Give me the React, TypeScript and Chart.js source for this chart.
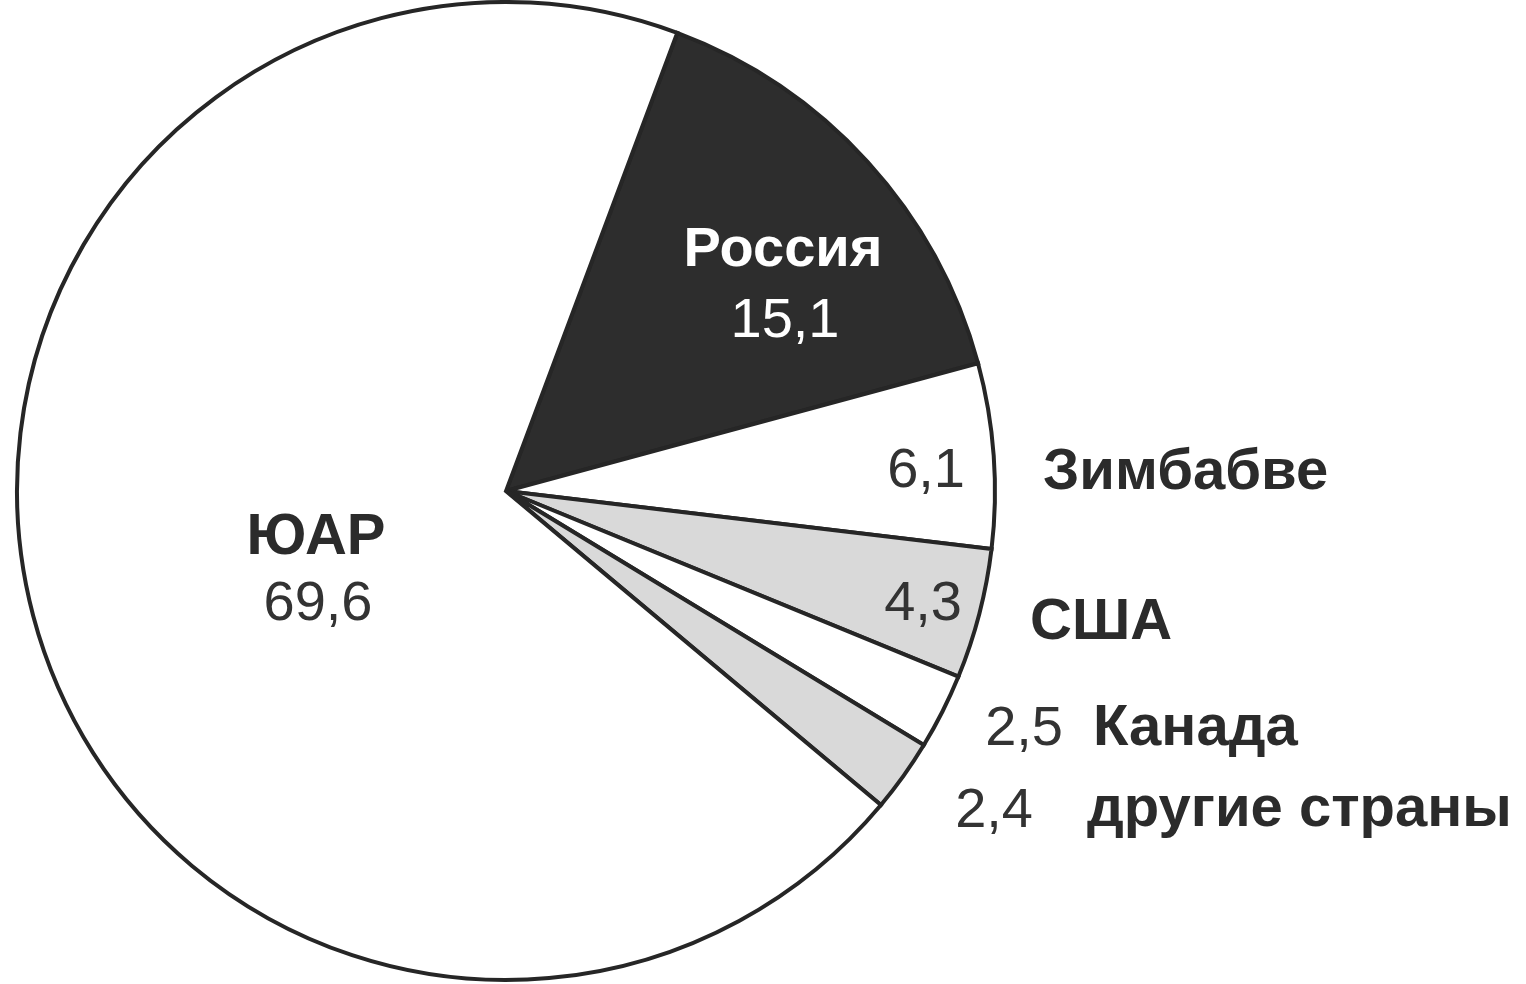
import React, { useEffect, useRef } from "react";
import { Chart, registerables } from "chart.js";

Chart.register(...registerables);

const categories = ["Россия", "Зимбабве", "США", "Канада", "другие страны", "ЮАР"];
const values = [15.1, 6.1, 4.3, 2.5, 2.4, 69.6];
const valueLabels = ["15,1", "6,1", "4,3", "2,5", "2,4", "69,6"];
const fills = ["#2d2d2d", "#ffffff", "#d9d9d9", "#ffffff", "#d9d9d9", "#ffffff"];

// text placement (styling only)
const nameLayout = [
  { x: 783, y: 266, align: "center", color: "#ffffff", size: 56 },
  { x: 1043, y: 489, align: "left", color: "#2b2b2b", size: 58 },
  { x: 1030, y: 639, align: "left", color: "#2b2b2b", size: 58 },
  { x: 1093, y: 745, align: "left", color: "#2b2b2b", size: 58 },
  { x: 1087, y: 826, align: "left", color: "#2b2b2b", size: 58 },
  { x: 316, y: 554, align: "center", color: "#2b2b2b", size: 58 },
];
const valueLayout = [
  { x: 785, y: 337, align: "center", color: "#ffffff" },
  { x: 965, y: 487, align: "right", color: "#333333" },
  { x: 962, y: 620, align: "right", color: "#333333" },
  { x: 1063, y: 745, align: "right", color: "#333333" },
  { x: 1033, y: 827, align: "right", color: "#333333" },
  { x: 318, y: 620, align: "center", color: "#333333" },
];

const labelPlugin = {
  id: "pieLabels",
  afterDraw(chart: any) {
    const ctx = chart.ctx;
    ctx.save();
    ctx.textBaseline = "alphabetic";
    categories.forEach((name, i) => {
      const n = nameLayout[i];
      ctx.font = `bold ${n.size}px "Liberation Sans", Arial, sans-serif`;
      ctx.fillStyle = n.color;
      ctx.textAlign = n.align;
      ctx.fillText(name, n.x, n.y);
      const v = valueLayout[i];
      ctx.font = `56px "Liberation Sans", Arial, sans-serif`;
      ctx.fillStyle = v.color;
      ctx.textAlign = v.align;
      ctx.fillText(valueLabels[i], v.x, v.y);
    });
    ctx.restore();
  },
};

export default function App() {
  const ref = useRef<HTMLCanvasElement>(null);
  useEffect(() => {
    document.body.style.margin = "0";
    const chart = new Chart(ref.current!, {
      type: "pie",
      data: {
        labels: categories,
        datasets: [
          {
            data: values,
            backgroundColor: fills,
            borderColor: "#262626",
            borderWidth: 4,
            borderJoinStyle: "miter",
          },
        ],
      },
      options: {
        animation: false,
        responsive: false,
        rotation: 20.5,
        radius: 489,
        layout: { padding: { left: 0, top: 0, right: 514, bottom: 2 } },
        plugins: {
          legend: { display: false },
          tooltip: { enabled: false },
        },
      },
      plugins: [labelPlugin],
    });
    return () => chart.destroy();
  }, []);
  return (
    <div style={{ position: "fixed", left: 0, top: 0, width: 1526, height: 984, background: "#fff" }}>
      <canvas ref={ref} width={1526} height={984} style={{ width: 1526, height: 984 }} />
    </div>
  );
}
